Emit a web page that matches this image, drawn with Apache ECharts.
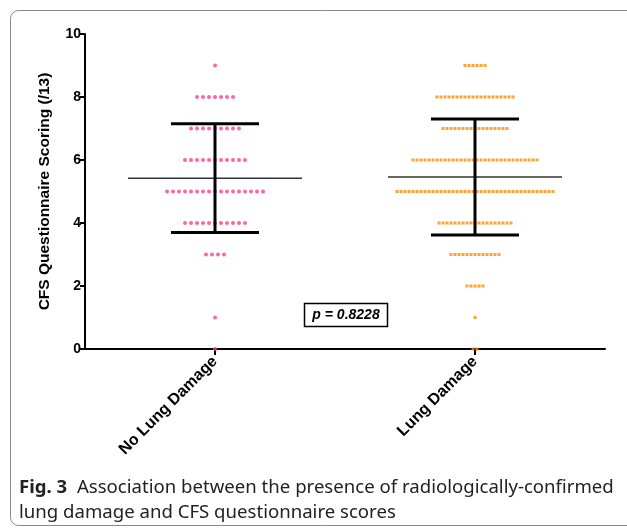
<!DOCTYPE html>
<html>
<head>
<meta charset="utf-8">
<script src="https://cdn.jsdelivr.net/npm/echarts@6/dist/echarts.min.js"></script>
<style>
    html, body { margin: 0; padding: 0; background: #fff; }
    #main { width: 627px; height: 531px; }
</style>
</head>
<body>
<div id="main"></div>
<script>
// groups on the x axis
var groups = ['No Lung Damage', 'Lung Damage']
// score levels and how many patients sit on each level
var scores = [0, 1, 2, 3, 4, 5, 6, 7, 8, 9]
var noDamageCounts = [1, 1, 0, 4, 11, 17, 11, 9, 7, 1]
var damageCounts = [2, 1, 5, 13, 19, 40, 32, 17, 20, 6]
// mean and mean ± SD
var meanVals = [5.42, 5.46]
var sdLow = [3.7, 3.62]
var sdHigh = [7.15, 7.3]
var yTicks = [0, 2, 4, 6, 8, 10]
var pText = 'p = 0.8228'

function buildDots(groupName, counts, gap) {
    var out = []
    for (var i = 0; i < scores.length; i++) {
        var n = counts[i]
        for (var k = 0; k < n; k++) {
            out.push({
                value: [groupName, scores[i]],
                symbolOffset: [(k - (n - 1) / 2) * gap, 0]
            })
        }
    }
    return out
}

var chart = echarts.init(document.getElementById('main'))

var statsData = groups.map(function (g, i) {
    return [g, meanVals[i], sdLow[i], sdHigh[i]]
})

var option = {
    animation: false,
    grid: { left: 85, top: 34, right: 22, bottom: 182 },
    xAxis: {
        type: 'category',
        data: groups,
        axisLine: { lineStyle: { color: '#000', width: 2 } },
        axisTick: { show: true, alignWithLabel: true, length: 6, lineStyle: { color: '#000', width: 2 } },
        axisLabel: {
            rotate: 45,
            margin: 10,
            color: '#000',
            fontFamily: 'Liberation Sans',
            fontWeight: 'bold',
            fontSize: 16
        }
    },
    yAxis: {
        type: 'value',
        min: 0,
        max: 10,
        interval: 2,
        name: 'CFS Questionnaire Scoring (/13)',
        nameLocation: 'middle',
        nameGap: 32,
        nameTextStyle: { color: '#000', fontFamily: 'Liberation Sans', fontWeight: 'bold', fontSize: 15.5 },
        splitLine: { show: false },
        axisLine: { show: true, lineStyle: { color: '#000', width: 2 } },
        axisTick: { show: true, length: 5, lineStyle: { color: '#000', width: 2 } },
        axisLabel: {
            color: '#000',
            fontFamily: 'Liberation Sans',
            fontWeight: 'bold',
            fontSize: 14,
            margin: 4,
            formatter: function (v) { return yTicks.indexOf(v) >= 0 ? String(v) : '' }
        }
    },
    series: [
        {
            name: groups[0],
            type: 'scatter',
            symbol: 'circle',
            symbolSize: 4,
            itemStyle: { color: '#ff3d8f' },
            data: buildDots(groups[0], noDamageCounts, 6),
            z: 2
        },
        {
            name: groups[1],
            type: 'scatter',
            symbol: 'rect',
            symbolSize: 3,
            itemStyle: { color: '#ff8c00' },
            data: buildDots(groups[1], damageCounts, 4),
            z: 2
        },
        {
            type: 'custom',
            z: 3,
            data: statsData,
            encode: { x: 0, y: [1, 2, 3] },
            renderItem: function (params, api) {
                var mid = api.coord([api.value(0), api.value(1)])
                var lo = api.coord([api.value(0), api.value(2)])
                var hi = api.coord([api.value(0), api.value(3)])
                var x = mid[0]
                return {
                    type: 'group',
                    children: [
                        { type: 'line', shape: { x1: x - 87, y1: mid[1], x2: x + 87, y2: mid[1] },
                          style: { stroke: '#333', lineWidth: 1.5 } },
                        { type: 'line', shape: { x1: x, y1: lo[1], x2: x, y2: hi[1] },
                          style: { stroke: '#000', lineWidth: 3 } },
                        { type: 'line', shape: { x1: x - 44, y1: hi[1], x2: x + 44, y2: hi[1] },
                          style: { stroke: '#000', lineWidth: 3 } },
                        { type: 'line', shape: { x1: x - 44, y1: lo[1], x2: x + 44, y2: lo[1] },
                          style: { stroke: '#000', lineWidth: 3 } }
                    ]
                }
            }
        }
    ],
    graphic: [
        {
            type: 'rect',
            shape: { x: 10.5, y: 10.5, width: 640, height: 515, r: 8 },
            style: { fill: 'none', stroke: '#8a8a8a', lineWidth: 1 },
            silent: true,
            z: -1
        },
        {
            type: 'rect',
            shape: { x: 304.5, y: 303.5, width: 83, height: 23 },
            style: { fill: '#fff', stroke: '#000', lineWidth: 1.5 }
        },
        {
            type: 'text',
            x: 346, y: 315,
            style: {
                text: pText,
                fill: '#000',
                fontFamily: 'Liberation Sans',
                fontWeight: 'bold',
                fontStyle: 'italic',
                fontSize: 14,
                align: 'center',
                verticalAlign: 'middle'
            }
        },
        {
            type: 'text',
            x: 19, y: 488,
            style: {
                text: '{b|Fig. 3}  Association between the presence of radiologically-confirmed',
                fill: '#222',
                fontFamily: 'Noto Sans',
                fontSize: 18.6,
                verticalAlign: 'middle',
                rich: {
                    b: { fontFamily: 'Noto Sans', fontWeight: 'bold', fontSize: 18.6, fill: '#222' }
                }
            }
        },
        {
            type: 'text',
            x: 19, y: 513,
            style: {
                text: 'lung damage and CFS questionnaire scores',
                fill: '#222',
                fontFamily: 'Noto Sans',
                fontSize: 18.6,
                verticalAlign: 'middle'
            }
        }
    ]
}

chart.setOption(option)
</script>
</body>
</html>
